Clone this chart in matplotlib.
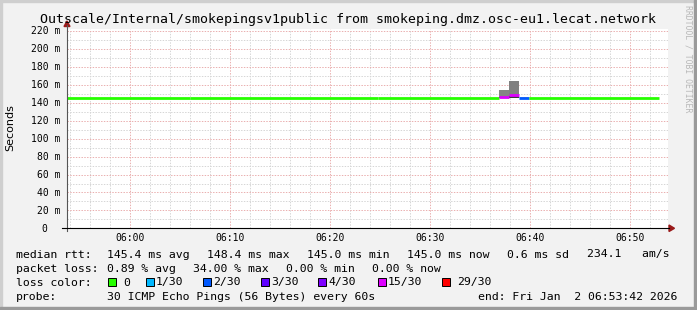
import matplotlib
matplotlib.use('Agg')
import matplotlib.pyplot as plt
import matplotlib.transforms as mtrans
from matplotlib.patches import Rectangle, Polygon
from matplotlib.lines import Line2D

W, H = 697, 310

# median rtt segments, minutes relative to 06:00
seg_start = [-6.3, 6.0, 24.8, 36.9, 37.9, 38.9, 39.9]
seg_end = [6.0, 24.8, 36.9, 37.9, 38.9, 39.9, 52.9]
seg_median = [145.0, 145.6, 145.0, 146.4, 148.4, 145.0, 145.0]
seg_loss = [0, 0, 0, 5, 5, 2, 0]

# smoke around the loss event
smoke_start = [36.9, 37.9, 38.9]
smoke_lo = [145.0, 145.0, 145.0]
smoke_hi = [154.5, 164.5, 146.6]
smoke_core_hi = [146.4, 148.0, 145.0]
smoke_shade = ['#858585', '#808080', '#c4c4c4']

loss_colors = ['#26ff00', '#00b8ff', '#0059ff', '#5e00ff', '#7e00ff', '#dd00ff', '#ff0000']
loss_labels = ['0', '1/30', '2/30', '3/30', '4/30', '15/30', '29/30']

x_ticks = [0, 10, 20, 30, 40, 50]
x_labels = ['06:00', '06:10', '06:20', '06:30', '06:40', '06:50']
y_ticks = list(range(0, 221, 20))

title = 'Outscale/Internal/smokepingsv1public from smokeping.dmz.osc-eu1.lecat.network'

legend_rtt = [('median rtt:', 16), ('145.4 ms avg', 107), ('148.4 ms max', 207),
              ('145.0 ms min', 307), ('145.0 ms now', 407), ('0.6 ms sd', 507),
              ('234.1   am/s', 587)]
legend_loss = [('packet loss:', 16), ('0.89 % avg', 107), ('34.00 % max', 193),
               ('0.00 % min', 286), ('0.00 % now', 372)]
loss_box_x = [108, 146, 203, 261, 318, 378, 442]
loss_text_x = [123, 156, 213, 271, 328, 388, 457]
probe_text = '30 ICMP Echo Pings (56 Bytes) every 60s'
end_text = 'end: Fri Jan  2 06:53:42 2026'

MONO = 'DejaVu Sans Mono'


def fx(px):
    return px / W


def fy(py):
    return 1 - py / H


fig = plt.figure(figsize=(W / 100, H / 100), dpi=100, facecolor='#f2f2f2')

# 3d-ish border
fig.patches.append(Rectangle((0, fy(2)), 1, 2 / H, transform=fig.transFigure, color='#cfcfcf', zorder=0))
fig.patches.append(Rectangle((0, 0), 2 / W, 1, transform=fig.transFigure, color='#cfcfcf', zorder=0))
fig.patches.append(Rectangle((0, 0), 1, 3 / H, transform=fig.transFigure, color='#9a9a9a', zorder=1))
fig.patches.append(Rectangle((fx(694), 0), 3 / W, 1, transform=fig.transFigure, color='#9a9a9a', zorder=1))

top, bot, left, right = 28.5, 228.4, 67, 668
ax = fig.add_axes([fx(left), fy(bot), (right - left) / W, (bot - top) / H])
ax.set_facecolor('white')
ax.set_xlim(-6.3, -6.3 + (right - left) / 10)
ax.set_ylim(0, (bot - top) / 0.8977)
for s in ax.spines.values():
    s.set_visible(False)
ax.set_xticks([])
ax.set_yticks([])

# grid (1px on / 1px off dots)
dot = (0, (1.4, 1.4))
for m in range(-6, 54, 2):
    major = m % 10 == 0
    ax.axvline(m, color='#eab0b0' if major else '#d6d6d6', lw=0.72, ls=dot, zorder=0)
for v in range(10, 221, 10):
    major = v % 20 == 0
    ax.axhline(v, color='#eab0b0' if major else '#d6d6d6', lw=0.72, ls=dot, zorder=0)

# smoke
for i in range(len(smoke_start)):
    ax.bar(smoke_start[i], smoke_hi[i] - smoke_lo[i], bottom=smoke_lo[i], width=1.0,
           align='edge', color=smoke_shade[i], lw=0, zorder=2)
    ax.bar(smoke_start[i], smoke_core_hi[i] - smoke_lo[i], bottom=smoke_lo[i], width=1.0,
           align='edge', color='#3a3a3a', lw=0, zorder=2)

# median line coloured by loss
ax.hlines(seg_median, seg_start, seg_end, colors=[loss_colors[k] for k in seg_loss],
          lw=2.0, capstyle='butt', zorder=3)

# axes lines and arrows
fig.add_artist(Line2D([fx(left), fx(left)], [fy(231), fy(25)], color='#555555', lw=0.8))
fig.add_artist(Line2D([fx(62), fx(right + 1)], [fy(bot), fy(bot)], color='black', lw=0.8))
fig.add_artist(Polygon([(fx(64), fy(26.5)), (fx(70), fy(26.5)), (fx(67), fy(21))],
                       closed=True, color='#9a1a1a', transform=fig.transFigure))
fig.add_artist(Polygon([(fx(669), fy(225)), (fx(669), fy(231.5)), (fx(674.5), fy(228.3))],
                       closed=True, color='#9a1a1a', transform=fig.transFigure))

# tick labels
ytr = mtrans.blended_transform_factory(fig.transFigure, ax.transData)
off = mtrans.ScaledTranslation(0, -3.3 / 100, fig.dpi_scale_trans)
for v in y_ticks:
    if v:
        fig.text(fx(60.5), v, f'{v} m', transform=ytr + off, ha='right', va='baseline',
                 family=MONO, fontsize=7.05)
    else:
        fig.text(fx(47.5), v, '0', transform=ytr + off, ha='right', va='baseline',
                 family=MONO, fontsize=7.05)
xtr = mtrans.blended_transform_factory(ax.transData, fig.transFigure)
for m, lab in zip(x_ticks, x_labels):
    fig.text(m, fy(241.2), lab, transform=xtr, ha='center', va='baseline',
             family=MONO, fontsize=7.05)

fig.text(fx(10.5), fy(128), 'Seconds', rotation=90, ha='center', va='center',
         family='DejaVu Sans', fontsize=8)

fig.text(fx(348), fy(23.5), title, ha='center', va='baseline', family=MONO, fontsize=9.55)

fig.text(fx(688), fy(5), 'RRDTOOL / TOBI OETIKER', rotation=270, ha='center', va='top',
         family=MONO, fontsize=5.9, color='#b8b8b8')

# legend
fs = 8.25
for txt, x in legend_rtt:
    fig.text(fx(x), fy(257.5), txt, ha='left', va='baseline', family=MONO, fontsize=fs)
for txt, x in legend_loss:
    fig.text(fx(x), fy(271.5), txt, ha='left', va='baseline', family=MONO, fontsize=fs)
fig.text(fx(16), fy(285.5), 'loss color:', ha='left', va='baseline', family=MONO, fontsize=fs)
for c, lab, bx, tx in zip(loss_colors, loss_labels, loss_box_x, loss_text_x):
    fig.patches.append(Rectangle((fx(bx), fy(285.5)), 7.5 / W, 8 / H, transform=fig.transFigure,
                                 facecolor=c, edgecolor='black', lw=0.7))
    fig.text(fx(tx), fy(285.5), lab, ha='left', va='baseline', family=MONO, fontsize=fs)
fig.text(fx(16), fy(299.5), 'probe:', ha='left', va='baseline', family=MONO, fontsize=fs)
fig.text(fx(107), fy(299.5), probe_text, ha='left', va='baseline', family=MONO, fontsize=fs)
fig.text(fx(478), fy(299.5), end_text, ha='left', va='baseline', family=MONO, fontsize=fs)

fig.savefig('out.png', dpi=100, facecolor=fig.get_facecolor())
